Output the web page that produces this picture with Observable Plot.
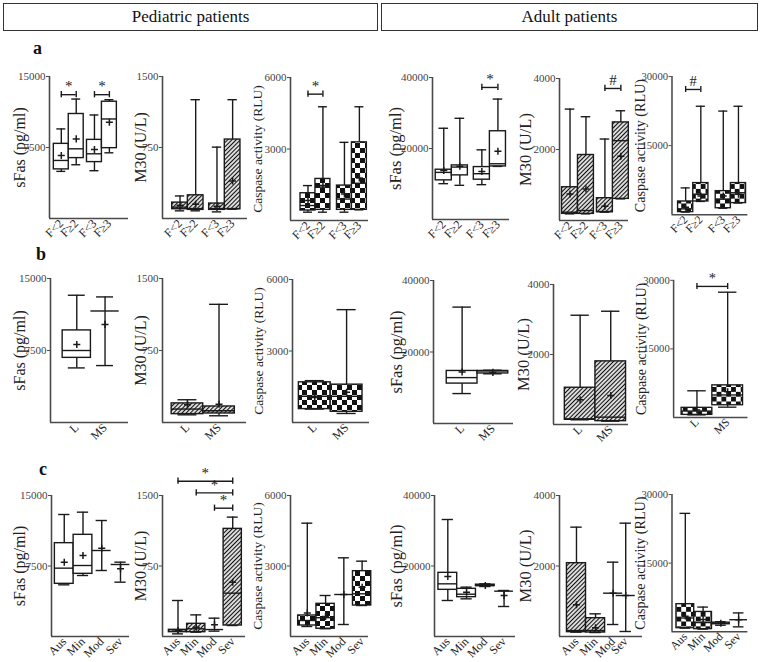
<!DOCTYPE html>
<html><head><meta charset="utf-8">
<script src="https://cdn.jsdelivr.net/npm/d3@7"></script>
<script src="https://cdn.jsdelivr.net/npm/@observablehq/plot@0.6"></script>
<style>
body{margin:0;background:#fff;font-family:"Liberation Serif",serif;}
#root{position:relative;width:761px;height:662px;overflow:hidden;background:#fff}
.hdr{position:absolute;border:1.6px solid #333;box-sizing:border-box;text-align:center;font-size:17px;line-height:25px;color:#111}
.row{position:absolute;font-weight:bold;font-size:18px;color:#111}
.pn{position:absolute}
</style></head>
<body><div id="root"></div>
<script>
// ---- categories ----
const catsFib = ["F<2", "F\u22652", "F<3", "F\u22653"];
const catsLiver = ["L", "MS"];
const catsSev = ["Aus", "Min", "Mod", "Sev"];
const headers = ["Pediatric patients", "Adult patients"];
const rowLabels = ["a", "b", "c"];

// ---- values: [min, q1, median, q3, max, mean] ----
const pedSFasA = [[4977,5187,6133,7885,9463,6659],[5678,6379,7360,11039,12617,8411],[5047,5958,6834,8306,10934,7290],[6939,7430,10514,12336,12547,10164]];
const pedM30A  = [[81,98,120,168,238,140],[81,91,105,245,1255,150],[70,91,105,158,754,130],[98,98,105,834,1255,396]];
const pedCaspA = [[349,419,628,1144,1465,837],[349,447,1400,1744,4772,1465],[349,447,900,1465,3279,1116],[447,447,1563,3279,4772,1786]];
const adSFasA  = [[10093,11028,13271,14019,25701,13832],[9626,12430,14766,15234,28505,15000],[9813,11215,12897,14766,19626,13551],[14953,14953,15701,24860,33925,19252]];
const adM30A   = [[187,187,234,937,3138,749],[187,187,281,1845,2923,890],[234,234,253,628,2295,400],[609,609,2248,2763,3091,1808]];
const adCaspA  = [[561,561,1262,2874,5818,1612],[2874,2874,4416,6869,23551,4065],[1402,1402,3364,5117,22500,4065],[2523,2523,4766,6869,23551,4416]];

const pedSFasB = [[5686,6733,7500,9593,13256,8128],[5930,11616,11616,11616,13081,10221]];
const pedM30B  = [[80,87,140,199,237,185],[70,94,122,167,1231,190]];
const pedCaspB = [[562,562,1100,1686,1756,1054],[379,450,1100,1588,4735,1265]];
const adSFasB  = [[8372,11163,12837,14698,32558,14419],[13900,14000,14700,14700,14900,14300]];
const adM30B   = [[134,134,162,1050,3122,706],[95,95,210,1804,3236,831]];
const adCaspB  = [[562,562,1405,2108,5831,1616],[2248,2670,4918,7026,27400,5621]];

const pedSFasC = [[5496,5603,7270,9929,12979,7908],[6489,6667,7553,10816,13227,8617],[7021,9149,9149,9149,12340,9397],[5780,7660,7660,7660,7908,7199]];
const pedM30C  = [[28,46,55,71,383,64],[46,46,82,135,230,99],[57,74,74,74,195,125],[117,117,461,1145,1270,578]];
const pedCaspC = [[426,468,681,894,4823,1000],[330,330,800,1390,1745,850],[511,1787,1787,1787,3348,1787],[1319,1319,1816,2780,3206,2099]];
const adSFasC  = [[10213,13239,14941,18061,33191,17021],[10686,11158,12000,13522,13995,12577],[14184,14300,14468,14700,14941,14468],[8511,12861,12861,12861,13050,11631]];
const adM30C   = [[123,123,170,2080,3102,898],[113,113,170,520,643,246],[340,1229,1229,1229,2109,1229],[142,1163,1163,1163,3215,1163]];
const adCaspC  = [[780,780,3000,6028,25887,3400],[567,567,2000,4326,5390,2695],[1418,1631,1844,1986,2199,1844],[1064,2624,2624,2624,4113,2624]];

// ---- significance: [from, to, y, mark] ----
const sigPedSFasA = [[0,1,13080,"*"],[2,3,13080,"*"]];
const sigPedCaspA = [[0,1,5302,"*"]];
const sigAdSFasA  = [[2,3,37196,"*"]];
const sigAdM30A   = [[2,3,3719,"#"]];
const sigAdCaspA  = [[0,1,27196,"#"]];
const sigAdCaspB  = [[0,1,28665,"*"]];
const sigPedM30C  = [[0,3,1652,"*"],[1,3,1528,"*"],[2,3,1365,"*"]];

// ---- axis specs ----
const axPedSFas = {ymax:15000, yticks:[7500,15000], label:"sFas (pg/ml)", ls:16, fill:"white"};
const axPedM30  = {ymax:1500, yticks:[750,1500], label:"M30 (U/L)", ls:16, fill:"url(#hatch)"};
const axPedCasp = {ymax:6000, yticks:[3000,6000], label:"Caspase activity (RLU)", ls:13.5, fill:"url(#checker)"};
const axAdSFas  = {ymax:40000, yticks:[20000,40000], label:"sFas (pg/ml)", ls:16.5, fill:"white"};
const axAdM30   = {ymax:4000, yticks:[2000,4000], label:"M30 (U/L)", ls:16.5, fill:"url(#hatch)"};
const axAdCasp  = {ymax:30000, yticks:[15000,30000], label:"Caspase activity (RLU)", ls:14.5, fill:"url(#checker)"};

const root = document.getElementById("root");
root.insertAdjacentHTML("beforeend", `<svg width="0" height="0" style="position:absolute;left:0;top:0"><defs>
<pattern id="hatch" patternUnits="userSpaceOnUse" width="3" height="3" patternTransform="rotate(45)"><rect width="3" height="3" fill="#fff"/><line x1="1.5" y1="0" x2="1.5" y2="3" stroke="#111" stroke-width="1.3"/></pattern>
<pattern id="checker" patternUnits="userSpaceOnUse" width="10" height="10"><rect width="10" height="10" fill="#fff"/><rect width="5" height="5" fill="#111"/><rect x="5" y="5" width="5" height="5" fill="#111"/></pattern>
</defs></svg>`);

// headers
[[3,375],[381,377]].forEach(([l,w],i)=>{
  const d=document.createElement("div"); d.className="hdr";
  d.style.left=l+"px"; d.style.top="3px"; d.style.width=w+"px"; d.style.height="28px";
  d.textContent=headers[i]; root.appendChild(d);
});
[[33,38],[36,244],[39,459]].forEach(([l,t],i)=>{
  const d=document.createElement("div"); d.className="row";
  d.style.left=l+"px"; d.style.top=t+"px"; d.textContent=rowLabels[i]; root.appendChild(d);
});

function panel(p) {
  const mL=55, mR=14, mT=34, mB=40;
  const pos = p.cats.map((c,i)=> p.centers ? p.centers[i] : p.off + i + (p.gap||0)*Math.floor(i/2));
  const rows = p.stats.map((s,i)=>({cat:p.cats[i], x:pos[i], min:s[0], q1:s[1], med:s[2], q3:s[3], max:s[4], mean:s[5]}));
  const hw=0.5, cw=0.3, ink="#1a1a1a", axc="#4a4a4a";
  const lbl = new Map(pos.map((x,i)=>[x,p.cats[i]]));
  const sig = (p.sig||[]).map(s=>({x1:pos[s[0]], x2:pos[s[1]], y:s[2], t:s[3]}));
  const th = p.ymax*0.022;
  const chart = Plot.plot({
    width:p.w+mL+mR, height:p.h+mT+mB,
    marginLeft:mL, marginRight:mR, marginTop:mT, marginBottom:mB,
    x:{domain:[0,p.span]},
    y:{domain:[0,p.ymax]},
    style:{background:"transparent", overflow:"visible", fontFamily:"'Liberation Serif', serif"},
    marks:[
      Plot.ruleX(rows,{x:"x", y1:"q3", y2:"max", stroke:ink, strokeWidth:1.4}),
      Plot.ruleX(rows,{x:"x", y1:"min", y2:"q1", stroke:ink, strokeWidth:1.4}),
      Plot.rect(rows,{x1:d=>d.x-hw, x2:d=>d.x+hw, y1:"q1", y2:"q3", fill:p.fill, stroke:ink, strokeWidth:1.4}),
      Plot.ruleY(rows,{y:"med", x1:d=>d.x-hw, x2:d=>d.x+hw, stroke:ink, strokeWidth:1.4}),
      Plot.ruleY(rows,{y:"max", x1:d=>d.x-cw, x2:d=>d.x+cw, stroke:ink, strokeWidth:1.4}),
      Plot.ruleY(rows,{y:"min", x1:d=>d.x-cw, x2:d=>d.x+cw, stroke:ink, strokeWidth:1.4}),
      Plot.dot(rows,{x:"x", y:"mean", symbol:"plus", r:2.4, stroke:ink, strokeWidth:1.5}),
      Plot.ruleX([0],{y1:0, y2:p.ymax, stroke:axc, strokeWidth:1.6}),
      Plot.ruleY([0],{stroke:axc, strokeWidth:1.6}),
      Plot.axisY({ticks:p.yticks, tickSize:3, tickPadding:1, tickFormat:d=>String(d), fontSize:11, label:null, stroke:axc, fill:"#444"}),
      Plot.axisX({ticks:pos, tickFormat:d=>lbl.get(d), tickRotate:-45, tickSize:0, tickPadding:3, fontSize:12, label:null, fill:"#222"}),
      Plot.text([p.label],{text:d=>d, frameAnchor:"left", textAnchor:"middle", dx:-p.lx, rotate:-90, fontSize:p.ls, fill:"#222"}),
      Plot.ruleY(sig,{y:"y", x1:"x1", x2:"x2", stroke:ink, strokeWidth:1.4}),
      Plot.ruleX(sig,{x:"x1", y1:d=>d.y-th, y2:d=>d.y+th, stroke:ink, strokeWidth:1.4}),
      Plot.ruleX(sig,{x:"x2", y1:d=>d.y-th, y2:d=>d.y+th, stroke:ink, strokeWidth:1.4}),
      Plot.text(sig,{x:d=>(d.x1+d.x2)/2, y:"y", text:"t", dy:-8, fontSize:15, fill:"#222"})
    ]
  });
  const div=document.createElement("div"); div.className="pn";
  div.style.left=(p.left-mL)+"px"; div.style.top=(p.top-mT)+"px";
  div.appendChild(chart); root.appendChild(div);
}

const panels = [
  // row a
  {...axPedSFas, cats:catsFib, stats:pedSFasA, sig:sigPedSFasA, left:49, top:75.5, w:79, h:142, span:5.29, off:0.79, gap:0.22, lx:30},
  {...axPedM30,  cats:catsFib, stats:pedM30A, left:162, top:76, w:85, h:142, span:5.43, off:1.12, gap:0.36, lx:22},
  {...axPedCasp, cats:catsFib, stats:pedCaspA, sig:sigPedCaspA, left:290, top:76.5, w:78, h:143, span:5.22, off:1.17, gap:0.44, lx:33},
  {...axAdSFas,  cats:catsFib, stats:adSFasA, sig:sigAdSFasA, left:432, top:76.5, w:77, h:142, span:4.79, off:0.70, gap:0.37, lx:37},
  {...axAdM30,   cats:catsFib, stats:adM30A, sig:sigAdM30A, left:559, top:78, w:69, h:142, span:4.33, off:0.66, gap:0.19, lx:34},
  {...axAdCasp,  cats:catsFib, stats:adCaspA, sig:sigAdCaspA, left:673, top:76.5, w:78, h:142, span:5.0, off:0.90, gap:0.48, lx:32},
  // row b
  {...axPedSFas, cats:catsLiver, stats:pedSFasB, left:50, top:278, w:78, h:144, span:2.76, off:0.93, lx:31},
  {...axPedM30,  cats:catsLiver, stats:pedM30B, left:162, top:278, w:84, h:144, span:2.66, off:0.79, lx:22},
  {...axPedCasp, cats:catsLiver, stats:pedCaspB, left:292, top:279, w:77, h:143, span:2.42, off:0.70, lx:34},
  {...axAdSFas,  cats:catsLiver, stats:adSFasB, left:433, top:280, w:80, h:143, span:2.6, off:0.93, lx:37},
  {...axAdM30,   cats:catsLiver, stats:adM30B, left:553, top:284, w:75, h:140, span:2.45, off:0.87, lx:30},
  {...axAdCasp,  cats:catsLiver, stats:adCaspB, sig:sigAdCaspB, left:675, top:281, w:77, h:142, span:2.42, off:0.76, lx:33},
  // row c
  {...axPedSFas, cats:catsSev, stats:pedSFasC, left:51, top:495, w:78, h:141, span:4.16, off:0.68, lx:32},
  {...axPedM30,  cats:catsSev, stats:pedM30C, sig:sigPedM30C, left:162, top:495, w:83, h:141, span:4.55, off:0.85, lx:22},
  {...axPedCasp, cats:catsSev, stats:pedCaspC, left:290, top:495, w:78, h:141, span:4.27, off:0.92, lx:33},
  {...axAdSFas,  cats:catsSev, stats:adSFasC, left:434, top:495, w:81, h:141, span:4.32, off:0.71, lx:38},
  {...axAdM30,   cats:catsSev, stats:adM30C, left:559, top:495, w:83, h:141, span:4.35, centers:[0.89,1.89,2.81,3.47], lx:34},
  {...axAdCasp,  cats:catsSev, stats:adCaspC, left:673, top:495, w:78, h:141, span:4.27, off:0.75, lx:32}
];
panels.forEach(panel);
</script>
</body></html>
